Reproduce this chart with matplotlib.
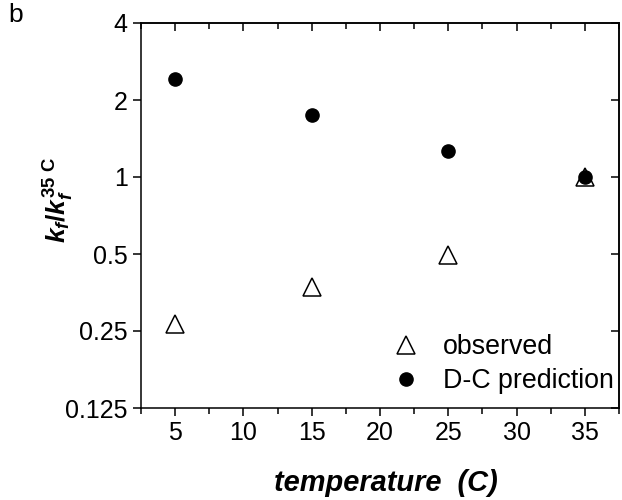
import matplotlib
matplotlib.use("Agg")
import matplotlib.pyplot as plt
from matplotlib.ticker import FixedLocator, MultipleLocator, NullLocator

plt.rcParams['font.family'] = ['Liberation Sans', 'DejaVu Sans']
plt.rcParams['mathtext.fontset'] = 'custom'
plt.rcParams['mathtext.it'] = 'Liberation Sans:italic:bold'
plt.rcParams['mathtext.bf'] = 'Liberation Sans:bold'
plt.rcParams['mathtext.rm'] = 'Liberation Sans:bold'

temperature = [5, 15, 25, 35]
observed = [0.266, 0.372, 0.494, 1.0]
dc_prediction = [2.42, 1.755, 1.265, 1.0]
yticks = [0.125, 0.25, 0.5, 1, 2, 4]
ytick_labels = ['0.125', '0.25', '0.5', '1', '2', '4']
xticks = [5, 10, 15, 20, 25, 30, 35]

fig = plt.figure(figsize=(6.22, 5.0), dpi=100)
ax = fig.add_axes([0.2267, 0.184, 0.7685, 0.770])

ax.plot(temperature, observed, linestyle='none', marker='^', markersize=13,
        markerfacecolor='white', markeredgecolor='black', markeredgewidth=1.1,
        label='observed')
ax.plot(temperature, dc_prediction, linestyle='none', marker='o', markersize=9.5,
        color='black', label='D-C prediction')

ax.set_yscale('log', base=2)
ax.set_ylim(0.125, 4)
ax.set_xlim(2.5, 37.5)
ax.yaxis.set_major_locator(FixedLocator(yticks))
ax.set_yticklabels(ytick_labels)
ax.yaxis.set_minor_locator(NullLocator())
ax.xaxis.set_major_locator(FixedLocator(xticks))
ax.xaxis.set_minor_locator(MultipleLocator(2.5))

ax.tick_params(axis='both', which='major', labelsize=18, length=6, width=1.1,
               direction='out', top=False, right=False)
ax.tick_params(axis='x', which='minor', length=4, width=1.1, direction='out', top=False)

# inward ticks on top and right
secx = ax.secondary_xaxis('top')
secx.xaxis.set_major_locator(FixedLocator(xticks))
secx.xaxis.set_minor_locator(MultipleLocator(2.5))
secx.tick_params(axis='x', which='major', direction='in', length=6, width=1.1, labeltop=False)
secx.tick_params(axis='x', which='minor', direction='in', length=4, width=1.1)
secy = ax.secondary_yaxis('right')
secy.set_yscale('log', base=2)
secy.yaxis.set_major_locator(FixedLocator(yticks))
secy.yaxis.set_minor_locator(NullLocator())
secy.tick_params(axis='y', which='major', direction='in', length=6, width=1.1, labelright=False)

for s in ax.spines.values():
    s.set_linewidth(1.1)
for s in list(secx.spines.values()) + list(secy.spines.values()):
    s.set_linewidth(1.1)

ax.set_xlabel('temperature  (C)', fontsize=20.9, fontweight='bold', fontstyle='italic')
ax.xaxis.set_label_coords(0.5115, -0.158)
ax.set_ylabel(r'$k_f/k_f^{35\ \mathrm{C}}$', fontsize=19)
ax.yaxis.set_label_coords(-0.135, 0.54)

leg = ax.legend(loc='lower right', bbox_to_anchor=(1.029, -0.013), frameon=False,
                fontsize=19.3, handlelength=1.0, handletextpad=0.9,
                labelspacing=0.3, borderpad=0.2)

fig.text(0.013, 0.955, 'b', fontsize=19)

fig.savefig('out.png', dpi=100)
